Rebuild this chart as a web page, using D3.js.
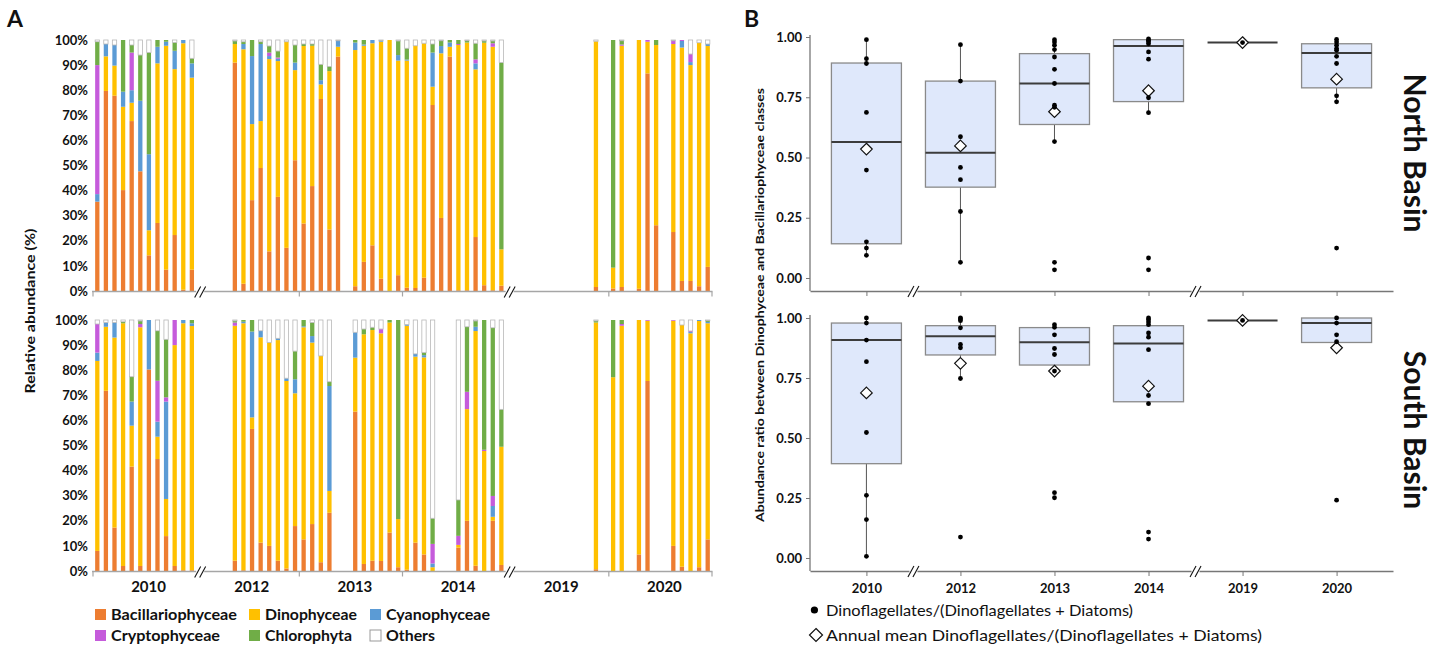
<!DOCTYPE html>
<html>
<head>
<meta charset="utf-8">
<script src="https://cdn.jsdelivr.net/npm/d3@7"></script>
<style>
  body { margin: 0; background: #fff; }
  text { font-family: Lato, "Open Sans", sans-serif; fill: #111; }
</style>
</head>
<body>
<svg id="fig" width="1436" height="648"></svg>
<script>
// ---------- data ----------
const years = ["2010", "2012", "2013", "2014", "2019", "2020"];
const months = ["01", "02", "03", "04", "05", "06", "07", "08", "09", "10", "11", "12"];
const classes = ["Bacillariophyceae", "Dinophyceae", "Cyanophyceae", "Cryptophyceae", "Chlorophyta", "Others"];
const classColors = ["#ED7D31", "#FFC000", "#5B9BD5", "#C55BDB", "#70AD47", "#FFFFFF"];

// North basin samples (relative abundance %)
const samplesN = ["2010-01","2010-02","2010-03","2010-04","2010-05","2010-06","2010-07","2010-08","2010-09","2010-10","2010-11","2010-12",
  "2012-05","2012-06","2012-07","2012-08","2012-09","2012-10","2012-11","2012-12",
  "2013-01","2013-02","2013-03","2013-04","2013-05","2013-07","2013-08","2013-09","2013-10","2013-11","2013-12",
  "2014-01","2014-02","2014-03","2014-04","2014-05","2014-06","2014-07","2014-08","2014-09","2014-10","2014-11","2014-12",
  "2019-11","2020-01","2020-02","2020-04","2020-05","2020-06","2020-08","2020-09","2020-10","2020-11","2020-12"];
const bacN = [35.6,79.7,77.8,40.2,67.7,47.7,14.2,27.1,8.5,22.3,0.5,8.5,
  91,2.9,36.2,49,15.8,37.5,17.2,52.1,
  26.9,41.8,76.5,24.5,93.4,1.9,11.6,18.2,4.9,0,6.3,
  1.3,1.2,5.3,74.1,29.1,93.4,0.3,0.3,21.5,2.3,0.3,2.1,
  1.6,1,1.6,0.9,86.7,26.2,23.5,4,4,1.9,9.6];
const dinoN = [0,13.8,12,33.2,7.3,0,10,63.6,89.2,66.1,98.2,76.5,
  7.4,93.4,30.3,18.7,76.6,54.1,82.1,35.9,
  70.7,55.9,5.8,63.1,3.9,94.1,86.1,80.5,94.4,100,85.5,
  90.5,96.5,93.4,7.3,65.6,3.9,97.7,98.7,66.8,96.6,97,14.5,
  97.9,8.3,96.1,99.1,12.6,71.8,74.9,93,86,97,88];
const cyanN = [3,4.9,8.2,6,5,28.1,30.3,6.6,1.6,7.3,1.3,5.7,
  0,2.1,27.1,30.7,1.2,0.9,0,3,
  0,0,1.7,0,2.4,3,0.5,1.3,0.4,0,2.2,
  0.4,0,0,13.6,2.9,1.7,0,0,2.4,0,0,0,
  0,0,0,0,0,0,0,2.6,1.2,0,0.8];
const cryptN = [51.4,0,0,0,15,0,0,0,0,0,0,0,
  0,0,0,0,1.4,0.5,0,0,
  0,0,0,0,0,0,0,0,0,0,0,
  0,0,0,0,0,0,0.4,0,1.6,0,1.4,0,
  0,0,0.5,0,0.7,0,1.3,0.4,3.2,0,0];
const chloN = [9.3,0,0,20.6,3,18.2,40.5,2.7,0.7,3.3,0,2,
  1.2,0.9,6.4,0.9,2.6,2.6,0,7,
  0.8,0.7,6.3,1.8,0,1,1.8,0,0,0,5.6,
  4.5,0,0,3.4,2.1,1,1.6,0.7,6.4,0.7,0.9,74.4,
  0,90.7,1.5,0,0,2,0,0,0,0,0];

// South basin samples (relative abundance %)
const samplesS = ["2010-01","2010-02","2010-03","2010-04","2010-05","2010-06","2010-07","2010-08","2010-09","2010-10","2010-11","2010-12",
  "2012-05","2012-06","2012-07","2012-08","2012-09","2012-10","2012-11","2012-12",
  "2013-01","2013-02","2013-03","2013-04","2013-07","2013-08","2013-09","2013-10","2013-11","2013-12",
  "2014-01","2014-02","2014-03","2014-04","2014-07","2014-08","2014-09","2014-10","2014-11","2014-12",
  "2019-11","2020-01","2020-02","2020-04","2020-05","2020-08","2020-09","2020-10","2020-11","2020-12"];
const bacS = [8,71.8,17.3,2,41.6,2,80.3,44.6,13.9,2,0.3,0.3,
  4.1,0.3,56.6,11.3,10,4.1,1,17.9,
  12.6,18.7,3.5,23.2,63.5,2.8,4.1,4,15.3,1.5,
  0.5,11.3,6.6,0,9.3,20,2.1,0,20,2.4,
  0.7,0,0,6.6,75.7,10,1.7,0,1.5,12.6];
const dinoS = [75.7,25.5,75.7,96.7,16.3,95.1,0,8.9,14.8,88,98.4,97.3,
  93.6,98.4,4.6,81.8,81,87.9,74.7,52.9,
  84.5,72.3,82.2,8.7,21.5,91.5,91.9,90.7,83.7,19.2,
  97.2,74.1,78.5,1.5,1.1,44.5,93.5,47.8,1.6,47.1,
  98.3,77.2,97.7,93.4,24,89.7,96.3,94.7,98.1,86.1];
const cyanS = [3.3,1.7,6,0,9.6,0,19.7,6,38.8,0,1.3,1.1,
  0,0.6,34.2,2.6,0,0.7,1.1,5.6,
  0.4,2.6,0,41.8,10.1,0,0,0,0,0,
  0.5,1.1,0.9,1.5,0,0,1.7,0,4.3,0,
  0,0,0,0,0,0,0,0.5,0.4,0.5];
const cryptS = [11.4,0,0,0,0,1.3,0,16.3,1.7,10,0,0,
  1.3,0,0,0,0,0,0,0,
  0,0,0,0,0,0,0,1.7,0,0,
  0,0,0,7.8,3.6,6.9,0,0.5,4,0,
  0,0,0.7,0,0.3,0.3,0,0.4,0,0];
const chloS = [0,0,0,0.6,9.9,1.2,0,19.9,23.1,0,0,1.3,
  0.6,0.7,4.6,0,0,0,0,11.2,
  2.5,5.4,0,1.7,0,2.1,1.1,0,1,79.3,
  0,0,1,10.2,14.3,25.9,2.3,51.7,67,14.9,
  0.6,22.8,1.6,0,0,0,0,0,0,0.5];

// Panel B: ratio Dino/(Dino+Diatoms)
const boxQ1N = [0.142, 0.377, 0.637, 0.732, 0.977, 0.789];
const boxMedN = [0.564, 0.520, 0.807, 0.963, 0.977, 0.934];
const boxQ3N = [0.892, 0.817, 0.931, 0.989, 0.977, 0.972];
const boxLoN = [0.094, 0.065, 0.566, 0.686, 0.977, 0.731];
const boxHiN = [0.989, 0.968, 0.989, 0.990, 0.977, 0.990];
const meanN = [0.535, 0.548, 0.690, 0.777, 0.977, 0.825];
const pointsN = [
  [0.989, 0.910, 0.890, 0.687, 0.448, 0.150, 0.124, 0.094],
  [0.968, 0.817, 0.586, 0.459, 0.408, 0.276, 0.065],
  [0.989, 0.979, 0.966, 0.948, 0.917, 0.866, 0.807, 0.717, 0.708, 0.566, 0.065, 0.034],
  [0.992, 0.986, 0.980, 0.972, 0.938, 0.908, 0.748, 0.686, 0.083, 0.034],
  [0.977],
  [0.990, 0.979, 0.966, 0.952, 0.945, 0.920, 0.890, 0.756, 0.731, 0.124]];

const boxQ1S = [0.393, 0.846, 0.804, 0.651, 0.990, 0.898];
const boxMedS = [0.908, 0.924, 0.899, 0.894, 0.990, 0.979];
const boxQ3S = [0.979, 0.968, 0.960, 0.968, 0.990, 1.000];
const boxLoS = [0.007, 0.748, 0.779, 0.643, 0.990, 0.898];
const boxHiS = [1.000, 1.000, 0.972, 1.000, 0.990, 1.000];
const meanS = [0.688, 0.811, 0.779, 0.716, 0.990, 0.876];
const pointsS = [
  [1.000, 0.979, 0.908, 0.818, 0.523, 0.261, 0.160, 0.007],
  [1.000, 0.996, 0.989, 0.959, 0.890, 0.876, 0.748, 0.087],
  [0.972, 0.961, 0.930, 0.873, 0.848, 0.779, 0.272, 0.251],
  [1.000, 0.993, 0.983, 0.972, 0.938, 0.920, 0.868, 0.677, 0.643, 0.108, 0.079],
  [0.990],
  [1.000, 0.979, 0.930, 0.901, 0.241]];

const svg = d3.select("#fig");

// ---------- panel A: stacked bars ----------
const slotKeys = years.flatMap(y => months.map(m => y + "-" + m));
const xA = d3.scaleBand().domain(slotKeys).range([93, 712]).paddingInner(0.5).paddingOuter(0.25);
const yTop = d3.scaleLinear().domain([0, 100]).range([291, 40]);
const yBot = d3.scaleLinear().domain([0, 100]).range([571, 320]);

// year group boundaries
const bounds = years.map(y => xA(y + "-01") + xA.bandwidth() / 2 - xA.step() / 2);
bounds.push(xA("2020-12") + xA.bandwidth() / 2 + xA.step() / 2);

function breakMark(x, y) {
    const g = svg.append("g");
    g.append("rect").attr("x", x - 4).attr("y", y - 2).attr("width", 8).attr("height", 4).attr("fill", "#fff");
    [-2.5, 2.5].forEach(o => {
        g.append("line")
            .attr("x1", x + o - 3).attr("y1", y + 6)
            .attr("x2", x + o + 3).attr("y2", y - 5)
            .attr("stroke", "#111").attr("stroke-width", 1.1);
    });
}

function barPanel(samples, cols, y, axisY) {
    const rows = samples.map((k, i) => {
        const r = { key: k };
        cols.forEach((c, j) => r[classes[j]] = c[i]);
        r.Others = Math.max(0, 100 - d3.sum(cols, c => c[i]));
        return r;
    });
    const series = d3.stack().keys(classes)(rows);

    svg.append("g")
        .selectAll("g")
        .data(series)
        .join("g")
        .attr("fill", (d, i) => classColors[i])
        .attr("stroke", d => d.key === "Others" ? "#b8b8b8" : "none")
        .attr("stroke-width", 0.8)
        .selectAll("rect")
        .data(d => d.filter(s => s[1] - s[0] > 0))
        .join("rect")
        .attr("x", d => xA(d.data.key))
        .attr("y", d => y(d[1]))
        .attr("width", xA.bandwidth())
        .attr("height", d => y(d[0]) - y(d[1]));

    // y axis (labels only)
    const ay = svg.append("g")
        .attr("transform", `translate(93,0)`)
        .call(d3.axisLeft(y).tickValues(d3.range(0, 101, 10)).tickFormat(d => d + "%").tickSize(0).tickPadding(5));
    ay.select(".domain").remove();
    ay.selectAll("text").attr("font-family", "Lato").attr("font-weight", 700).attr("font-size", 13).attr("fill", "#222");

    // x baseline
    svg.append("line")
        .attr("x1", 92).attr("x2", 712.5)
        .attr("y1", axisY).attr("y2", axisY)
        .attr("stroke", "#a6a6a6").attr("stroke-width", 1.6);
    svg.append("g").selectAll("line")
        .data([bounds[0], bounds[2], bounds[3], bounds[5], bounds[6]])
        .join("line")
        .attr("x1", d => d).attr("x2", d => d)
        .attr("y1", axisY).attr("y2", axisY + 5)
        .attr("stroke", "#a6a6a6").attr("stroke-width", 1.2);
    breakMark(bounds[1] + 4, axisY);
    breakMark(bounds[4] + 4, axisY);
}

barPanel(samplesN, [bacN, dinoN, cyanN, cryptN, chloN], yTop, 291.5);
barPanel(samplesS, [bacS, dinoS, cyanS, cryptS, chloS], yBot, 571.5);

// year labels
svg.append("g").selectAll("text")
    .data(years)
    .join("text")
    .attr("x", (d, i) => (bounds[i] + bounds[i + 1]) / 2 + 4)
    .attr("y", 592)
    .attr("text-anchor", "middle")
    .attr("font-weight", 700)
    .attr("font-size", 15)
    .text(d => d);

svg.append("text")
    .attr("transform", "translate(35,311) rotate(-90)")
    .attr("text-anchor", "middle")
    .attr("font-weight", 700)
    .attr("font-size", 14)
    .attr("textLength", 165)
    .attr("lengthAdjust", "spacingAndGlyphs")
    .text("Relative abundance (%)");

// legend A
const legX = [95, 249, 370];
const legY = [609, 630];
const legW = [126, 92, 104, 109, 87, 49];
svg.append("g").selectAll("g")
    .data(classes)
    .join("g")
    .attr("transform", (d, i) => `translate(${legX[i % 3]},${legY[Math.floor(i / 3)]})`)
    .call(g => g.append("rect")
        .attr("width", 11).attr("height", 11)
        .attr("fill", (d, i) => classColors[i])
        .attr("stroke", d => d === "Others" ? "#999" : "none"))
    .call(g => g.append("text")
        .attr("x", 16).attr("y", 11)
        .attr("font-weight", 700)
        .attr("font-size", 16)
        .attr("textLength", (d, i) => legW[i])
        .attr("lengthAdjust", "spacingAndGlyphs")
        .text(d => d));

// panel letters
svg.append("text").attr("x", 7).attr("y", 27).attr("font-family", "Liberation Sans").attr("font-weight", 700).attr("font-size", 23).text("A");
svg.append("text").attr("x", 744).attr("y", 27).attr("font-family", "Liberation Sans").attr("font-weight", 700).attr("font-size", 23).text("B");

// ---------- panel B: box plots ----------
const xB = d3.scalePoint().domain(years).range([810, 1393]).padding(0.6);
const yN = d3.scaleLinear().domain([0, 1]).range([278, 37]);
const yS = d3.scaleLinear().domain([0, 1]).range([558, 318]);
const boxW = 70;

function boxPanel(q1, med, q3, lo, hi, mean, pts, y, axisY, topY, showLabels) {
    const rows = years.map((yr, i) => ({ yr, q1: q1[i], med: med[i], q3: q3[i], lo: lo[i], hi: hi[i], mean: mean[i], pts: pts[i] }));
    const g = svg.append("g");

    g.selectAll(".wh").data(rows).join("line")
        .attr("x1", d => xB(d.yr)).attr("x2", d => xB(d.yr))
        .attr("y1", d => y(d.lo)).attr("y2", d => y(d.hi))
        .attr("stroke", "#555").attr("stroke-width", 1);

    g.selectAll(".box").data(rows.filter(d => d.q3 > d.q1)).join("rect")
        .attr("x", d => xB(d.yr) - boxW / 2)
        .attr("y", d => y(d.q3))
        .attr("width", boxW)
        .attr("height", d => y(d.q1) - y(d.q3))
        .attr("fill", "#dfe8fb")
        .attr("stroke", "#8a8a8a").attr("stroke-width", 1.3);

    g.selectAll(".med").data(rows).join("line")
        .attr("x1", d => xB(d.yr) - boxW / 2).attr("x2", d => xB(d.yr) + boxW / 2)
        .attr("y1", d => y(d.med)).attr("y2", d => y(d.med))
        .attr("stroke", "#3c3c3c").attr("stroke-width", 2);

    g.selectAll(".mean").data(rows).join("path")
        .attr("d", d => {
            const cx = xB(d.yr), cy = y(d.mean), r = 5.8;
            return `M${cx},${cy - r}L${cx + r},${cy}L${cx},${cy + r}L${cx - r},${cy}Z`;
        })
        .attr("fill", "#fff").attr("stroke", "#111").attr("stroke-width", 1.2);

    g.selectAll(".pt").data(rows.flatMap(d => d.pts.map(v => ({ yr: d.yr, v }))))
        .join("circle")
        .attr("cx", d => xB(d.yr)).attr("cy", d => y(d.v))
        .attr("r", 2.4).attr("fill", "#000");

    // y axis
    const ay = svg.append("g").attr("transform", "translate(810,0)")
        .call(d3.axisLeft(y).tickValues([0, 0.25, 0.5, 0.75, 1]).tickFormat(d3.format(".2f")).tickSize(4).tickPadding(4));
    ay.select(".domain").remove();
    ay.selectAll(".tick line").attr("stroke", "#777");
    ay.selectAll("text").attr("font-family", "Roboto").attr("font-weight", 700).attr("font-size", 13).attr("fill", "#222");
    svg.append("line").attr("x1", 810).attr("x2", 810).attr("y1", topY).attr("y2", axisY)
        .attr("stroke", "#777").attr("stroke-width", 1.3);

    // x axis
    const ax = svg.append("g").attr("transform", `translate(0,${axisY})`)
        .call(d3.axisBottom(xB).tickSize(5).tickPadding(8).tickSizeOuter(0));
    ax.select(".domain").attr("stroke", "#777").attr("stroke-width", 1.3);
    ax.selectAll(".tick line").attr("stroke", "#777");
    ax.selectAll("text").attr("font-family", "Roboto").attr("font-weight", 700).attr("font-size", 13).attr("fill", "#222")
        .style("display", showLabels ? null : "none");

    breakMark((xB("2010") + xB("2012")) / 2, axisY);
    breakMark((xB("2014") + xB("2019")) / 2, axisY);
}

boxPanel(boxQ1N, boxMedN, boxQ3N, boxLoN, boxHiN, meanN, pointsN, yN, 291, 35, false);
boxPanel(boxQ1S, boxMedS, boxQ3S, boxLoS, boxHiS, meanS, pointsS, yS, 571, 315, true);

svg.append("text")
    .attr("transform", "translate(764,305) rotate(-90)")
    .attr("text-anchor", "middle")
    .attr("font-family", "Liberation Sans")
    .attr("font-weight", 700)
    .attr("font-size", 12)
    .attr("textLength", 434)
    .attr("lengthAdjust", "spacingAndGlyphs")
    .text("Abundance ratio between Dinophyceae and Bacillariophyceae classes");

svg.append("text")
    .attr("transform", "translate(1404,153) rotate(90)")
    .attr("text-anchor", "middle")
    .attr("font-weight", 700)
    .attr("font-size", 30)
    .text("North Basin");
svg.append("text")
    .attr("transform", "translate(1404,430) rotate(90)")
    .attr("text-anchor", "middle")
    .attr("font-weight", 700)
    .attr("font-size", 30)
    .text("South Basin");

// legend B
svg.append("circle").attr("cx", xB("2010") - 52).attr("cy", 610).attr("r", 3.6).attr("fill", "#000");
svg.append("text").attr("x", 826).attr("y", 616).attr("font-size", 16)
    .attr("textLength", 307).attr("lengthAdjust", "spacingAndGlyphs")
    .text("Dinoflagellates/(Dinoflagellates + Diatoms)");
svg.append("path").attr("d", "M816,628.5L822.5,635L816,641.5L809.5,635Z").attr("fill", "#fff").attr("stroke", "#111").attr("stroke-width", 1.2);
svg.append("text").attr("x", 826).attr("y", 641).attr("font-size", 16)
    .attr("textLength", 436).attr("lengthAdjust", "spacingAndGlyphs")
    .text("Annual mean Dinoflagellates/(Dinoflagellates + Diatoms)");
</script>
</body>
</html>
